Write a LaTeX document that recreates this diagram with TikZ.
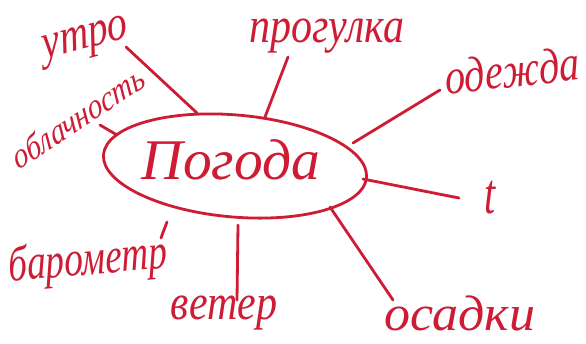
\documentclass[tikz,border=0pt]{standalone}
\usepackage{fontspec}
\setmainfont{Liberation Serif}
\usetikzlibrary{shapes.geometric}
\definecolor{ink}{RGB}{205,28,52}
\begin{document}
\begin{tikzpicture}[x=1pt,y=-1pt,
  lbl/.style={font=\fontsize{40}{40}\selectfont\itshape, inner sep=0pt, text=ink, yscale=1.25},
  conn/.style={draw=ink, line width=2.8pt, line cap=round},
  oval/.style={draw=ink, line width=2.8pt, ellipse, minimum width=264pt, minimum height=102pt, inner sep=0pt}]
\useasboundingbox (0,0) rectangle (586,343);
\fill[white] (0,0) rectangle (586,343);
% centre
\node[oval, rotate=-5] (pogoda) at (235,166) {};
\node[lbl, xscale=1.25, font=\fontsize{46}{46}\selectfont\itshape] (title) at (231,160) {Погода};
% labels
\node[lbl, rotate=12] (utro) at (86,42) {утро};
\node[lbl, rotate=28, font=\fontsize{29}{29}\selectfont\itshape] (obl) at (78,117) {облачность};
\node[lbl, xscale=1.05] (progulka) at (327,36) {прогулка};
\node[lbl, rotate=5] (odezhda) at (512,70) {одежда};
\node[lbl, yscale=1.15] (tt) at (490,198) {t};
\node[lbl, xscale=1.3] (osadki) at (460,313) {осадки};
\node[lbl, xscale=1.05] (veter) at (224,313) {ветер};
\node[lbl, rotate=4, xscale=0.93] (barometr) at (88,262) {барометр};
% connector end points
\coordinate (a1) at (197,113); \coordinate (b1) at (126,47);
\coordinate (a2) at (117,135); \coordinate (b2) at (100,125);
\coordinate (a3) at (265,117); \coordinate (b3) at (288,57);
\coordinate (a4) at (353,143); \coordinate (b4) at (440,90);
\coordinate (a5) at (363,179); \coordinate (b5) at (459,198);
\coordinate (a6) at (330,207); \coordinate (b6) at (393,300);
\coordinate (a7) at (238,225); \coordinate (b7) at (237,300);
\coordinate (a8) at (167,222); \coordinate (b8) at (161,238);
\foreach \i in {1,...,8} \draw[conn] (a\i) -- (b\i);
\end{tikzpicture}
\end{document}
